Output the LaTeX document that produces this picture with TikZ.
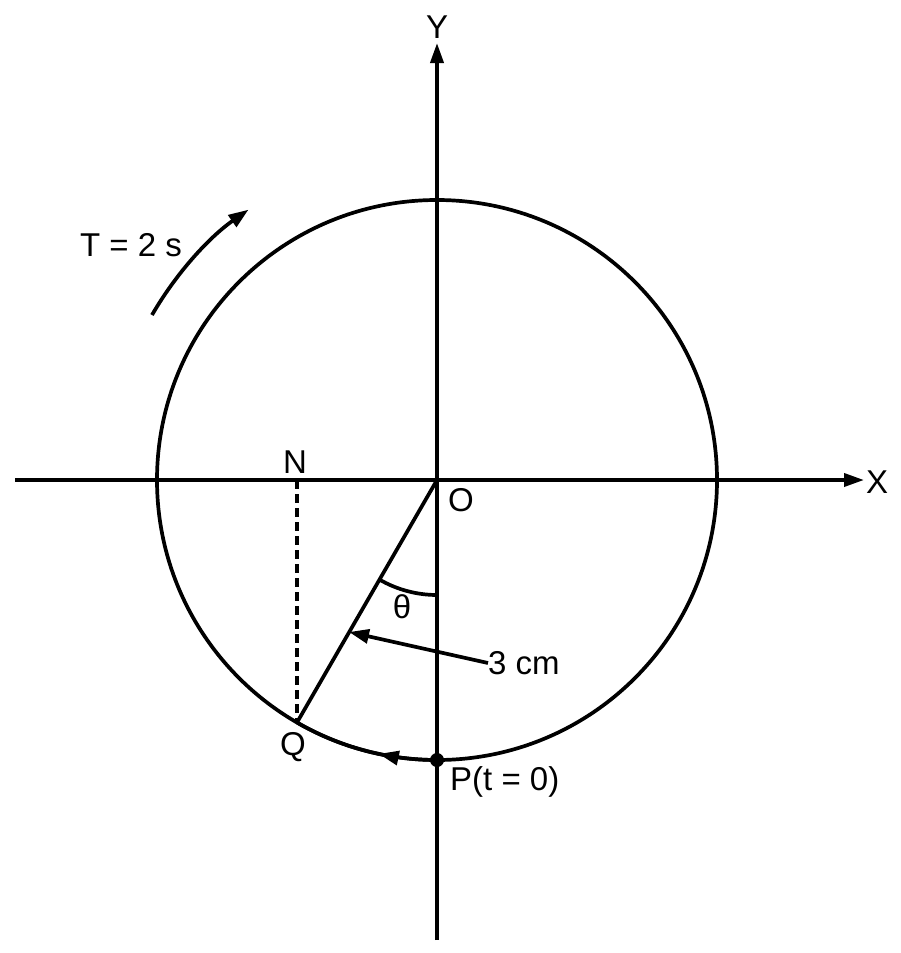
\documentclass[tikz,border=0pt]{standalone}
\usepackage{fontspec}
\setmainfont{Liberation Sans}
\usetikzlibrary{arrows.meta,decorations.markings}
\begin{document}
\begin{tikzpicture}[x=1pt,y=-1pt,
  thick line/.style={line width=3.7pt},
  tip/.style={-{Triangle[length=20pt,width=13pt]}},
  lbl/.style={font=\fontsize{33}{36}\selectfont, inner sep=0pt}]
\useasboundingbox (0,0) rectangle (901,953);
\coordinate (O) at (437,480);
% axes
\coordinate (xs) at (15,480);
\coordinate (xe) at (864,480);
\coordinate (ys) at (437,940);
\coordinate (ye) at (437,43);
\draw[thick line, tip] (xs) -- (xe);
\draw[thick line, tip] (ys) -- (ye);
\node[lbl] (X) at (877,482) {X};
\node[lbl] (Y) at (437,27) {Y};
% circle
\draw[thick line] (O) circle[radius=280];
% points
\coordinate (Q) at (297,722.5);
\coordinate (N) at (297,480);
\coordinate (P) at (437,760);
\draw[thick line] (O) -- (Q);
\draw[thick line, dash pattern=on 9pt off 5pt] (N) -- (Q);
\fill (P) circle[radius=7];
% motion arrow on circle from P to Q
\draw[thick line, postaction={decorate}, decoration={markings, mark=at position 0.4 with {\arrow{Triangle[length=20pt,width=14pt]}}}]
  (P) arc[start angle=90, end angle=120, radius=280];
% theta arc
\draw[thick line] (437,595) arc[start angle=90, end angle=120, radius=115];
\node[lbl] (th) at (402,607) {θ};
% 3 cm
\node[lbl, anchor=west] (cm) at (488,663) {3 cm};
\coordinate (cmtip) at (349,632);
\draw[thick line, -{Triangle[length=20pt,width=14pt]}] (cm.west) -- (cmtip);
% T arc
\coordinate (ta) at (152,315);
\draw[thick line, -{Triangle[length=20pt,width=14pt]}] (ta) arc[start angle=-150, end angle=-125, radius=330];
\node[lbl] (T) at (131,245) {T = 2 s};
% labels
\node[lbl] (Nl) at (295,462) {N};
\node[lbl] (Ol) at (461,500) {O};
\node[lbl] (Ql) at (293,747) {Q};
\node[lbl, anchor=west] (Pl) at (450,782) {P(t = 0)};
\end{tikzpicture}
\end{document}
